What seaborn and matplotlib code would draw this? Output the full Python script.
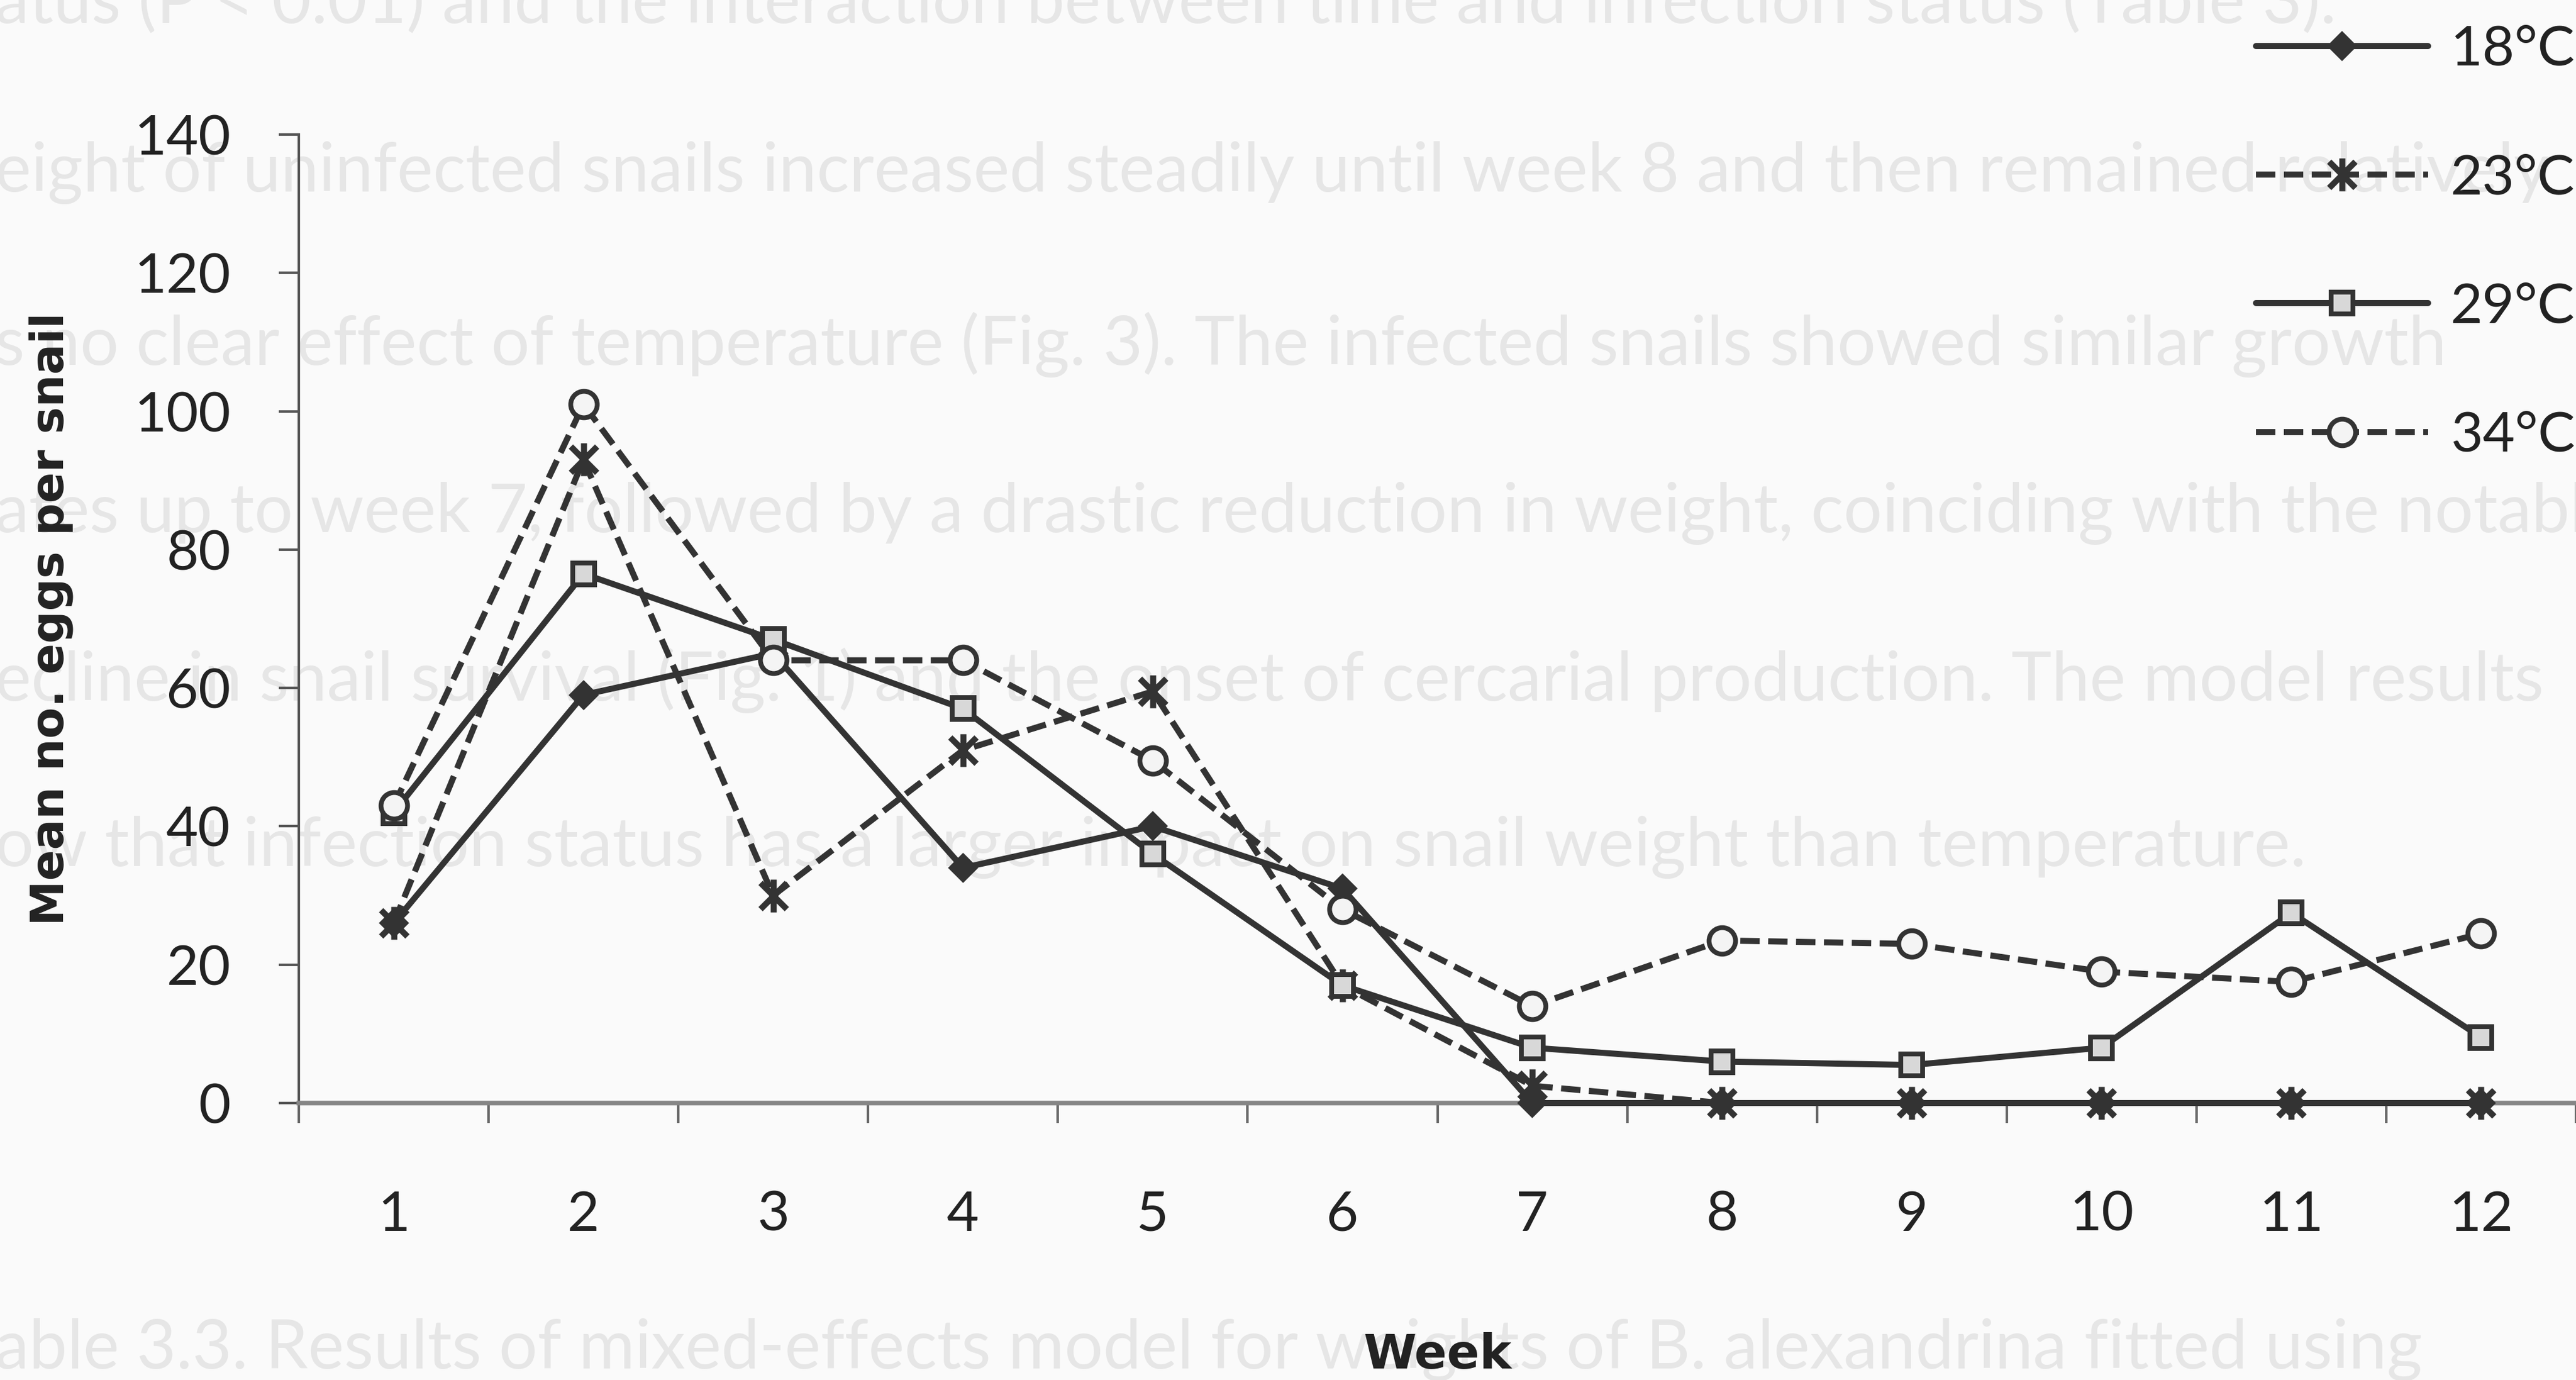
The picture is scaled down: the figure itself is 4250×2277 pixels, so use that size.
import numpy as np
import matplotlib
matplotlib.use("Agg")
import matplotlib.pyplot as plt
from matplotlib.path import Path
from matplotlib.lines import Line2D
import seaborn as sns

# Mean number of eggs per snail, by week and temperature
weeks = [1, 2, 3, 4, 5, 6, 7, 8, 9, 10, 11, 12]
temps = ["18°C", "23°C", "29°C", "34°C"]
eggs_18 = [26, 59, 65, 34, 40, 31, 0, 0, 0, 0, 0, 0]
eggs_23 = [26, 93, 30, 51, 59.5, 17, 2.5, 0, 0, 0, 0, 0]
eggs_29 = [42, 76.5, 67, 57, 36, 17, 8, 6, 5.5, 8, 27.5, 9.5]
eggs_34 = [43, 101, 64, 64, 49.5, 28, 14, 23.5, 23, 19, 17.5, 24.5]
y_ticks = [0, 20, 40, 60, 80, 100, 120, 140]

# Page text printed around the figure
page_lines = [
    "atus (P < 0.01) and the interaction between time and infection status (Table 3).",
    "eight of uninfected snails increased steadily until week 8 and then remained relatively",
    "s no clear effect of temperature (Fig. 3). The infected snails showed similar growth",
    "ates up to week 7, followed by a drastic reduction in weight, coinciding with the notable",
    "ecline in snail survival (Fig. 1) and the onset of cercarial production. The model results",
    "ow that infection status has a larger impact on snail weight than temperature.",
    "able 3.3. Results of mixed-effects model for weights of B. alexandrina fitted using",
]
page_line_y = [0.998, 0.875, 0.750, 0.628, 0.507, 0.386, 0.022]

sns.set_theme(style="white")
plt.rcParams["font.family"] = ["Lato", "DejaVu Sans"]

W, H, DPI = 4250, 2277, 300
fig = plt.figure(figsize=(W / DPI, H / DPI), dpi=DPI)
fig.patch.set_facecolor("#fafafa")

# faint page text sits underneath the plot
for txt, yy in zip(page_lines, page_line_y):
    fig.text(-0.002, yy, txt, ha="left", va="center", fontsize=27,
             color="#e6e6e6", zorder=-1)

ax = fig.add_axes([493 / W, 1 - 1820 / H, 3757 / W, 1598 / H])
ax.set_facecolor("none")

ink = "#333333"
star = Path([(0, 1), (0, -1), (-0.8, 0.8), (0.8, -0.8), (-0.8, -0.8), (0.8, 0.8)],
            [Path.MOVETO, Path.LINETO, Path.MOVETO, Path.LINETO, Path.MOVETO, Path.LINETO])
dash = (3.2, 1.4)

styles = {
    "18°C": dict(marker="D", markersize=7.5, markerfacecolor=ink, markeredgecolor=ink,
                 markeredgewidth=1.0, linestyle="-"),
    "23°C": dict(marker=star, markersize=13, markerfacecolor=ink, markeredgecolor=ink,
                 markeredgewidth=2.4, dashes=dash),
    "29°C": dict(marker="s", markersize=8.5, markerfacecolor="#d8d8d8", markeredgecolor=ink,
                 markeredgewidth=1.9, linestyle="-"),
    "34°C": dict(marker="o", markersize=10.5, markerfacecolor="#f4f4f4", markeredgecolor=ink,
                 markeredgewidth=1.9, dashes=dash),
}
series = {"18°C": eggs_18, "23°C": eggs_23, "29°C": eggs_29, "34°C": eggs_34}

for t in temps:
    sns.lineplot(x=weeks, y=series[t], ax=ax, color=ink, linewidth=2.4,
                 clip_on=False, zorder=3, **styles[t])

ax.set_xlim(0.5, 12.5)
ax.set_ylim(0, 140)
ax.set_yticks(y_ticks)
ax.set_xticks(weeks)
ax.set_xticks(np.arange(0.5, 13, 1.0), minor=True)

for side in ["top", "right"]:
    ax.spines[side].set_visible(False)
ax.spines["left"].set_color("#555555")
ax.spines["left"].set_linewidth(1.0)
ax.spines["bottom"].set_color("#858585")
ax.spines["bottom"].set_linewidth(1.8)

ax.tick_params(axis="y", which="major", direction="out", length=8, width=1.0,
               color="#555555", pad=19, labelsize=22, labelcolor="#222222", left=True)
ax.tick_params(axis="x", which="major", length=0, pad=34.5, labelsize=22,
               labelcolor="#222222", bottom=True)
ax.tick_params(axis="x", which="minor", direction="out", length=8, width=1.0,
               color="#666666", bottom=True)

ax.set_xlabel("Week", fontsize=19, fontweight="bold", family="DejaVu Sans", color="#222222")
ax.set_ylabel("Mean no. eggs per snail", fontsize=18, fontweight="bold",
              family="DejaVu Sans", color="#222222")
ax.xaxis.set_label_coords(0.5, -0.2365)
ax.yaxis.set_label_coords(-0.099, 0.5)

handles = []
for t in temps:
    st = dict(styles[t])
    handles.append(Line2D([0], [0], color=ink, linewidth=2.4, **st))
leg = fig.legend(handles, temps, loc="upper left", bbox_to_anchor=(3722 / W, 1 - 41 / H),
                 frameon=False, fontsize=22, handlelength=3.1, handletextpad=0.4,
                 labelspacing=1.41, borderpad=0, borderaxespad=0, numpoints=1)
for txt in leg.get_texts():
    txt.set_color("#222222")

fig.savefig("out.png", dpi=DPI, facecolor=fig.get_facecolor())
